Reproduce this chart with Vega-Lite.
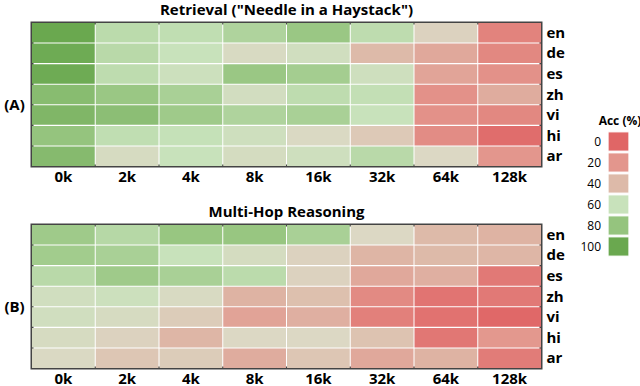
{
  "$schema": "https://vega.github.io/schema/vega-lite/v6.json",
  "padding": {"left": 2, "top": 1, "right": 0, "bottom": 0},
  "config": {
    "font": "Open Sans",
    "view": {"stroke": "#444444", "strokeWidth": 3},
    "axis": {"ticks": false, "domain": false, "grid": false, "labelFont": "Open Sans", "labelFontSize": 15, "labelFontWeight": "bold", "labelColor": "#000000", "titleColor": "#000000"},
    "title": {"font": "Open Sans", "fontSize": 15, "fontWeight": "bold", "color": "#000000", "anchor": "middle", "offset": 5}
  },
  "datasets": {
    "retrieval": [
      {"lang": "en", "ctx": "0k", "acc": 100}, {"lang": "en", "ctx": "2k", "acc": 65}, {"lang": "en", "ctx": "4k", "acc": 63}, {"lang": "en", "ctx": "8k", "acc": 70}, {"lang": "en", "ctx": "16k", "acc": 78}, {"lang": "en", "ctx": "32k", "acc": 64}, {"lang": "en", "ctx": "64k", "acc": 48}, {"lang": "en", "ctx": "128k", "acc": 12},
      {"lang": "de", "ctx": "0k", "acc": 98}, {"lang": "de", "ctx": "2k", "acc": 66}, {"lang": "de", "ctx": "4k", "acc": 60}, {"lang": "de", "ctx": "8k", "acc": 52}, {"lang": "de", "ctx": "16k", "acc": 56}, {"lang": "de", "ctx": "32k", "acc": 40}, {"lang": "de", "ctx": "64k", "acc": 30}, {"lang": "de", "ctx": "128k", "acc": 14},
      {"lang": "es", "ctx": "0k", "acc": 98}, {"lang": "es", "ctx": "2k", "acc": 64}, {"lang": "es", "ctx": "4k", "acc": 58}, {"lang": "es", "ctx": "8k", "acc": 78}, {"lang": "es", "ctx": "16k", "acc": 74}, {"lang": "es", "ctx": "32k", "acc": 57}, {"lang": "es", "ctx": "64k", "acc": 28}, {"lang": "es", "ctx": "128k", "acc": 18},
      {"lang": "zh", "ctx": "0k", "acc": 86}, {"lang": "zh", "ctx": "2k", "acc": 78}, {"lang": "zh", "ctx": "4k", "acc": 72}, {"lang": "zh", "ctx": "8k", "acc": 55}, {"lang": "zh", "ctx": "16k", "acc": 64}, {"lang": "zh", "ctx": "32k", "acc": 62}, {"lang": "zh", "ctx": "64k", "acc": 18}, {"lang": "zh", "ctx": "128k", "acc": 32},
      {"lang": "vi", "ctx": "0k", "acc": 90}, {"lang": "vi", "ctx": "2k", "acc": 84}, {"lang": "vi", "ctx": "4k", "acc": 76}, {"lang": "vi", "ctx": "8k", "acc": 70}, {"lang": "vi", "ctx": "16k", "acc": 72}, {"lang": "vi", "ctx": "32k", "acc": 60}, {"lang": "vi", "ctx": "64k", "acc": 18}, {"lang": "vi", "ctx": "128k", "acc": 14},
      {"lang": "hi", "ctx": "0k", "acc": 80}, {"lang": "hi", "ctx": "2k", "acc": 63}, {"lang": "hi", "ctx": "4k", "acc": 61}, {"lang": "hi", "ctx": "8k", "acc": 57}, {"lang": "hi", "ctx": "16k", "acc": 51}, {"lang": "hi", "ctx": "32k", "acc": 45}, {"lang": "hi", "ctx": "64k", "acc": 16}, {"lang": "hi", "ctx": "128k", "acc": 3},
      {"lang": "ar", "ctx": "0k", "acc": 87}, {"lang": "ar", "ctx": "2k", "acc": 53}, {"lang": "ar", "ctx": "4k", "acc": 60}, {"lang": "ar", "ctx": "8k", "acc": 54}, {"lang": "ar", "ctx": "16k", "acc": 57}, {"lang": "ar", "ctx": "32k", "acc": 66}, {"lang": "ar", "ctx": "64k", "acc": 50}, {"lang": "ar", "ctx": "128k", "acc": 20}
    ],
    "multihop": [
      {"lang": "en", "ctx": "0k", "acc": 76}, {"lang": "en", "ctx": "2k", "acc": 67}, {"lang": "en", "ctx": "4k", "acc": 79}, {"lang": "en", "ctx": "8k", "acc": 79}, {"lang": "en", "ctx": "16k", "acc": 72}, {"lang": "en", "ctx": "32k", "acc": 50}, {"lang": "en", "ctx": "64k", "acc": 40}, {"lang": "en", "ctx": "128k", "acc": 36},
      {"lang": "de", "ctx": "0k", "acc": 75}, {"lang": "de", "ctx": "2k", "acc": 72}, {"lang": "de", "ctx": "4k", "acc": 60}, {"lang": "de", "ctx": "8k", "acc": 54}, {"lang": "de", "ctx": "16k", "acc": 48}, {"lang": "de", "ctx": "32k", "acc": 37}, {"lang": "de", "ctx": "64k", "acc": 40}, {"lang": "de", "ctx": "128k", "acc": 38},
      {"lang": "es", "ctx": "0k", "acc": 66}, {"lang": "es", "ctx": "2k", "acc": 76}, {"lang": "es", "ctx": "4k", "acc": 72}, {"lang": "es", "ctx": "8k", "acc": 65}, {"lang": "es", "ctx": "16k", "acc": 48}, {"lang": "es", "ctx": "32k", "acc": 30}, {"lang": "es", "ctx": "64k", "acc": 34}, {"lang": "es", "ctx": "128k", "acc": 8},
      {"lang": "zh", "ctx": "0k", "acc": 56}, {"lang": "zh", "ctx": "2k", "acc": 58}, {"lang": "zh", "ctx": "4k", "acc": 52}, {"lang": "zh", "ctx": "8k", "acc": 36}, {"lang": "zh", "ctx": "16k", "acc": 42}, {"lang": "zh", "ctx": "32k", "acc": 15}, {"lang": "zh", "ctx": "64k", "acc": 6}, {"lang": "zh", "ctx": "128k", "acc": 8},
      {"lang": "vi", "ctx": "0k", "acc": 56}, {"lang": "vi", "ctx": "2k", "acc": 53}, {"lang": "vi", "ctx": "4k", "acc": 46}, {"lang": "vi", "ctx": "8k", "acc": 27}, {"lang": "vi", "ctx": "16k", "acc": 34}, {"lang": "vi", "ctx": "32k", "acc": 11}, {"lang": "vi", "ctx": "64k", "acc": 5}, {"lang": "vi", "ctx": "128k", "acc": 1},
      {"lang": "hi", "ctx": "0k", "acc": 53}, {"lang": "hi", "ctx": "2k", "acc": 48}, {"lang": "hi", "ctx": "4k", "acc": 38}, {"lang": "hi", "ctx": "8k", "acc": 50}, {"lang": "hi", "ctx": "16k", "acc": 50}, {"lang": "hi", "ctx": "32k", "acc": 43}, {"lang": "hi", "ctx": "64k", "acc": 7}, {"lang": "hi", "ctx": "128k", "acc": 21},
      {"lang": "ar", "ctx": "0k", "acc": 51}, {"lang": "ar", "ctx": "2k", "acc": 44}, {"lang": "ar", "ctx": "4k", "acc": 46}, {"lang": "ar", "ctx": "8k", "acc": 32}, {"lang": "ar", "ctx": "16k", "acc": 44}, {"lang": "ar", "ctx": "32k", "acc": 30}, {"lang": "ar", "ctx": "64k", "acc": 36}, {"lang": "ar", "ctx": "128k", "acc": 9}
    ]
  },
  "spacing": 17,
  "resolve": {"scale": {"color": "shared"}, "legend": {"color": "shared"}},
  "vconcat": [
    {
      "title": "Retrieval (\"Needle in a Haystack\")",
      "width": 509,
      "height": 143,
      "data": {"name": "retrieval"},
      "mark": {"type": "rect"},
      "encoding": {
        "x": {"field": "ctx", "type": "ordinal", "sort": ["0k", "2k", "4k", "8k", "16k", "32k", "64k", "128k"], "scale": {"paddingInner": 0.016, "paddingOuter": 0}, "axis": {"title": null, "labelAngle": 0, "labelPadding": 3}},
        "y": {"field": "lang", "type": "ordinal", "sort": ["en", "de", "es", "zh", "vi", "hi", "ar"], "scale": {"paddingInner": 0.05, "paddingOuter": 0}, "axis": {"orient": "right", "labelPadding": 5, "title": "(A)", "titleAngle": 0, "titleX": -527, "titleY": 81, "titleAlign": "center", "titleBaseline": "middle", "titleFontSize": 15, "titleFontWeight": "bold"}},
        "color": {"field": "acc", "type": "quantitative", "title": "Acc (%)",
          "scale": {"domain": [0, 20, 40, 50, 60, 80, 100], "range": ["#e06666", "#e3968d", "#ddbaa9", "#dcd8c4", "#c8e2bb", "#95c47e", "#6aa84f"], "interpolate": "rgb"},
          "legend": {"type": "symbol", "values": [0, 20, 40, 60, 80, 100], "orient": "none", "legendX": 567, "legendY": 93, "symbolType": "M-1.3,-1.2H1.3V1.2H-1.3Z", "symbolSize": 256, "symbolStrokeColor": "#ffffff", "symbolStrokeWidth": 1, "symbolOpacity": 1, "rowPadding": -10, "labelAlign": "right", "labelOffset": -26, "labelFontSize": 12, "labelColor": "#000000", "titleFontSize": 12, "titleFontWeight": "bold", "titleColor": "#000000", "titleAnchor": "middle", "titlePadding": 5}}
      }
    },
    {
      "title": "Multi-Hop Reasoning",
      "width": 509,
      "height": 143,
      "data": {"name": "multihop"},
      "mark": {"type": "rect"},
      "encoding": {
        "x": {"field": "ctx", "type": "ordinal", "sort": ["0k", "2k", "4k", "8k", "16k", "32k", "64k", "128k"], "scale": {"paddingInner": 0.016, "paddingOuter": 0}, "axis": {"title": null, "labelAngle": 0, "labelPadding": 3}},
        "y": {"field": "lang", "type": "ordinal", "sort": ["en", "de", "es", "zh", "vi", "hi", "ar"], "scale": {"paddingInner": 0.05, "paddingOuter": 0}, "axis": {"orient": "right", "labelPadding": 5, "title": "(B)", "titleAngle": 0, "titleX": -527, "titleY": 81, "titleAlign": "center", "titleBaseline": "middle", "titleFontSize": 15, "titleFontWeight": "bold"}},
        "color": {"field": "acc", "type": "quantitative", "title": "Acc (%)",
          "scale": {"domain": [0, 20, 40, 50, 60, 80, 100], "range": ["#e06666", "#e3968d", "#ddbaa9", "#dcd8c4", "#c8e2bb", "#95c47e", "#6aa84f"], "interpolate": "rgb"},
          "legend": {"type": "symbol", "values": [0, 20, 40, 60, 80, 100], "orient": "none", "legendX": 567, "legendY": 93, "symbolType": "M-1.3,-1.2H1.3V1.2H-1.3Z", "symbolSize": 256, "symbolStrokeColor": "#ffffff", "symbolStrokeWidth": 1, "symbolOpacity": 1, "rowPadding": -10, "labelAlign": "right", "labelOffset": -26, "labelFontSize": 12, "labelColor": "#000000", "titleFontSize": 12, "titleFontWeight": "bold", "titleColor": "#000000", "titleAnchor": "middle", "titlePadding": 5}}
      }
    }
  ]
}
